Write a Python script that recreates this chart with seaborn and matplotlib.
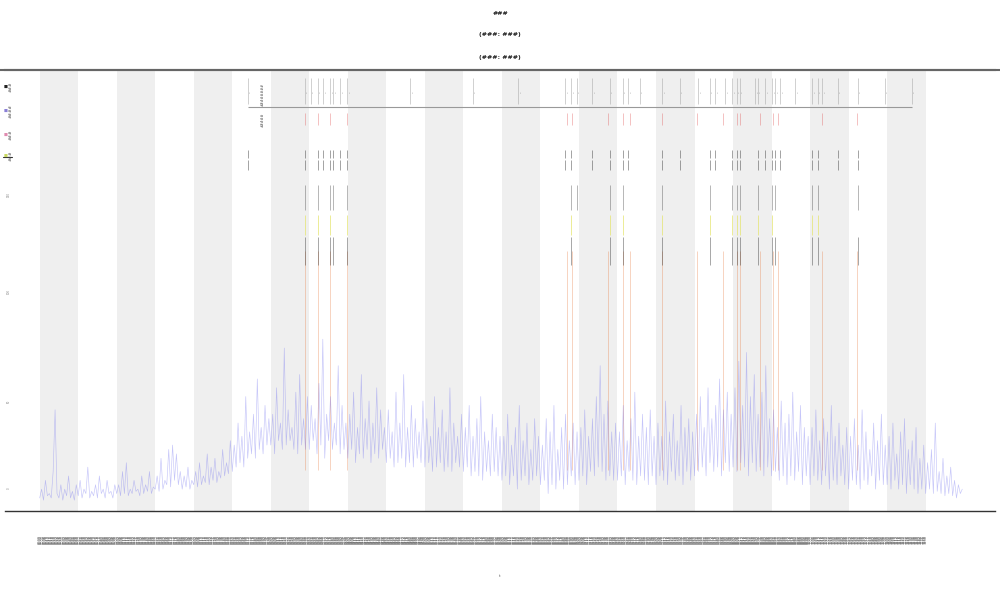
import numpy as np
import pandas as pd
import matplotlib
matplotlib.use("Agg")
import matplotlib.pyplot as plt
import seaborn as sns

# ---------------- data ----------------
step = 2.5
signal = [
    3, 5, 2.5, 7, 3.5, 4, 3, 9, 23, 4, 3, 6, 2.5, 5, 3.5, 8, 3, 4.5, 2.5, 6,
    3.5, 7, 3, 5, 4, 10, 3, 4.5, 3.5, 6, 3, 8, 4, 5, 3, 7, 4, 4.5, 3, 6,
    4, 6, 3.5, 9, 4, 11, 3.5, 5, 4, 7, 4.5, 5, 3.5, 8, 4, 6, 4.5, 9, 4, 5.5,
    5, 8, 4.5, 12, 5, 7, 6, 14, 5.5, 15, 7, 13, 6, 9, 5, 8, 5.5, 10, 5, 7,
    6, 9, 5.5, 11, 6, 8, 6.5, 13, 6, 10, 7, 12, 6.5, 9, 7.5, 14, 8, 11, 8.5, 16,
    9, 15, 10, 20, 11, 17, 10, 26, 12, 18, 13, 22, 12, 30, 14, 19, 13, 24, 15, 21,
    15, 22, 13, 28, 16, 20, 14, 37, 15, 23, 16, 19, 14, 27, 13, 31, 15, 21, 14, 26,
    14, 24, 16, 21, 13, 29, 15, 39, 12, 22, 16, 26, 14, 20, 15, 33, 13, 24, 14, 20,
    12, 22, 14, 27, 11, 19, 13, 31, 12, 21, 14, 25, 11, 20, 13, 28, 12, 23, 14, 19,
    11, 23, 12, 18, 10, 27, 11, 20, 12, 31, 10, 19, 11, 24, 10, 21, 12, 18, 11, 25,
    10, 21, 11, 17, 9, 26, 10, 19, 11, 23, 9, 18, 10, 28, 9, 20, 11, 17, 10, 22,
    9, 19, 10, 24, 8, 17, 9, 21, 8, 26, 7, 18, 9, 16, 8, 22, 9, 19, 8, 17,
    7, 17, 8, 22, 6, 15, 8, 19, 5, 24, 7, 16, 8, 20, 6, 14, 7, 21, 8, 17,
    6, 15, 7, 21, 4, 18, 6, 24, 5, 14, 7, 19, 5, 22, 6, 16, 8, 20, 6, 18,
    7, 19, 8, 23, 6, 17, 9, 21, 8, 26, 10, 33, 9, 22, 7, 25, 8, 18, 7, 20,
    7, 18, 8, 24, 6, 16, 9, 21, 7, 27, 6, 17, 8, 22, 7, 19, 6, 23, 8, 17,
    6, 20, 8, 17, 7, 25, 6, 18, 9, 22, 7, 16, 8, 24, 6, 19, 9, 21, 7, 18,
    8, 22, 9, 26, 10, 19, 8, 28, 11, 21, 9, 24, 10, 30, 8, 23, 11, 27, 9, 22,
    10, 28, 9, 34, 11, 24, 10, 36, 8, 26, 11, 31, 9, 22, 10, 27, 8, 33, 10, 21,
    8, 23, 9, 19, 7, 25, 8, 20, 6, 22, 8, 27, 7, 18, 9, 24, 6, 19, 8, 17,
    6, 19, 8, 23, 7, 16, 6, 21, 8, 18, 5, 24, 7, 17, 6, 20, 8, 15, 6, 19,
    5, 17, 7, 21, 6, 15, 5, 23, 7, 18, 6, 14, 8, 20, 5, 16, 7, 22, 6, 15,
    6, 17, 5, 20, 7, 13, 5, 18, 6, 21, 4, 14, 6, 16, 5, 19, 4, 12, 5, 15,
    4, 11, 5, 14, 4, 20, 4.5, 9, 4, 12, 3.5, 8, 4, 10, 3.5, 7, 3, 6, 4, 5,
]
time = [i * step for i in range(len(signal))]

band_starts = [0, 100, 200, 300, 400, 500, 600, 700, 800, 900, 1000, 1100]
band_width = 50

events = [270, 344, 352, 361, 368, 377, 381, 390, 399, 481, 562, 621, 682, 690,
          697, 717, 740, 757, 764, 779, 808, 831, 855, 870, 877, 890, 899, 905,
          909, 929, 932, 942, 951, 955, 961, 981, 1003, 1010, 1016, 1036, 1062,
          1097, 1132]
red_events = [344, 361, 377, 399, 684, 691, 738, 757, 766, 808, 853, 887, 905,
              909, 935, 952, 958, 1016, 1061]
row_black1 = [270, 344, 361, 368, 377, 381, 390, 399, 682, 690, 717, 740, 757,
              764, 808, 831, 870, 877, 899, 905, 909, 932, 942, 951, 955, 961,
              1003, 1010, 1036, 1062]
row_black2 = [344, 361, 377, 381, 399, 690, 697, 740, 757, 808, 870, 899, 905,
              909, 932, 951, 955, 1003, 1010, 1062]
row_yellow = [344, 361, 377, 399, 690, 740, 757, 808, 870, 899, 905, 909, 932,
              951, 1003, 1010]
row_dark = [344, 361, 377, 381, 399, 690, 740, 757, 808, 870, 899, 905, 909,
            932, 951, 955, 1003, 1010, 1062]

xticks = list(range(0, 1151, 2))
xtick_labels = [f"{t:04d}" for t in xticks]
yticks = [5, 25, 50, 72]
ytick_labels = ["0", "50", "100", "150"]

legend_labels = ["###", "####", "###", "###"]
legend_colors = ["#222222", "#8a7fd6", "#e08bb0", "#c8d860"]

# ---------------- plot ----------------
sns.set_style("white")
fig = plt.figure(figsize=(10, 6), dpi=100)
ax = fig.add_axes([0.005, 0.148, 0.99, 0.735])

for b in band_starts:
    ax.axvspan(b, b + band_width, color="#efefef", lw=0, zorder=0)

df = pd.DataFrame({"time": time, "signal": signal})
sns.lineplot(data=df, x="time", y="signal", ax=ax, color="#7070f0",
             lw=0.45, alpha=0.4, zorder=3)

# event tracks
ax.vlines(red_events, 9.3, 59, color="#e8783c", lw=0.5, alpha=0.45, zorder=2)
ax.vlines(events, 92.3, 98.2, color="#9a9a9a", lw=0.4, alpha=0.8, zorder=3)
ax.hlines(91.6, events[0], events[-1], color="#999999", lw=0.8, zorder=3)
ax.vlines(red_events, 87.5, 90.2, color="#e05050", lw=0.5, alpha=0.5, zorder=3)
ax.vlines(row_black1, 80, 81.9, color="#333333", lw=0.45, alpha=0.7, zorder=3)
ax.vlines(row_black1, 77.3, 79.6, color="#333333", lw=0.45, alpha=0.7, zorder=3)
ax.vlines(row_black2, 68.3, 73.9, color="#444444", lw=0.45, alpha=0.6, zorder=3)
ax.vlines(row_yellow, 62.6, 67.1, color="#e4e46a", lw=0.7, alpha=0.7, zorder=3)
ax.vlines(row_dark, 55.8, 62.1, color="#333333", lw=0.5, alpha=0.6, zorder=3)
ax.text(290, 94.5, "########", rotation=90, fontsize=2.5, color="#444444",
        ha="center", va="center")
ax.text(290, 88.8, "#####", rotation=90, fontsize=2.5, color="#444444",
        ha="center", va="center")
for e in events:
    ax.text(e + 3, 95, "#", rotation=90, fontsize=1.5, color="#888888",
            ha="left", va="center")

ax.set_xlim(-45, 1240)
ax.set_ylim(0, 100)
ax.set_xticks(xticks)
ax.set_xticklabels(xtick_labels, rotation=90, fontsize=2.5, color="#555555")
ax.tick_params(axis="x", length=5, width=0.3, color="#aaaaaa", pad=12)
ax.set_yticks(yticks)
ax.set_yticklabels(ytick_labels, rotation=90, fontsize=2, color="#888888")
ax.tick_params(axis="y", length=0, pad=-4)
ax.set_xlabel("t", fontsize=3, color="#555555", labelpad=22)
ax.set_ylabel("")
for s in ["left", "right"]:
    ax.spines[s].set_visible(False)
ax.spines["bottom"].set_color("#333333")
ax.spines["bottom"].set_linewidth(1.0)
ax.spines["top"].set_color("#555555")
ax.spines["top"].set_linewidth(1.5)
fig.add_artist(plt.Line2D([0, 1], [0.883, 0.883], color="#666666", lw=1.5,
                          transform=fig.transFigure))

# legend (rotated)
leg_y = [0.855, 0.815, 0.775, 0.74]
for lab, col, yy in zip(legend_labels, legend_colors, leg_y):
    fig.text(0.004, yy, "■", fontsize=3, color=col, ha="left", va="center")
    fig.text(0.009, yy, lab, rotation=90, fontsize=3, color="#444444",
             ha="left", va="center")
fig.add_artist(plt.Line2D([0.003, 0.012], [0.738, 0.738], color="#333333",
                          lw=0.8, transform=fig.transFigure))

fig.text(0.5, 0.978, "###", fontsize=4.5, ha="center", va="center",
         color="#222222", fontweight="bold")
fig.text(0.5, 0.942, "(###: ###)", fontsize=4.5, ha="center", va="center",
         color="#222222", fontweight="bold")
fig.text(0.5, 0.905, "(###: ###)", fontsize=4.5, ha="center", va="center",
         color="#222222", fontweight="bold")

fig.savefig("out.png", dpi=100)
